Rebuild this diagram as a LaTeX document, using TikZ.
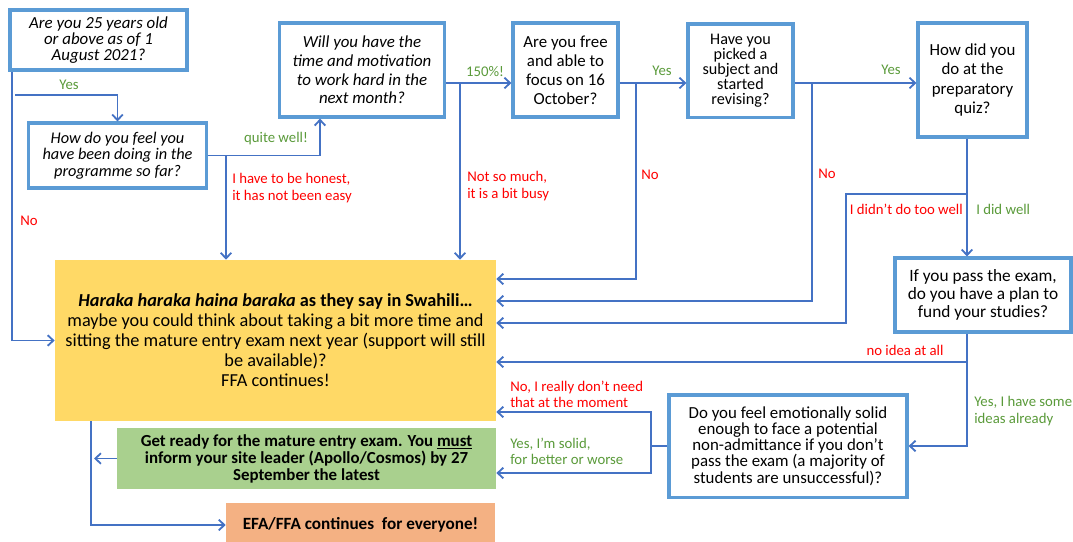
\documentclass[tikz,border=0pt]{standalone}
\usepackage{fontspec}
\setmainfont{Carlito}
\usepackage{xcolor}
\usetikzlibrary{arrows.meta}
\definecolor{boxblue}{HTML}{5B9BD5}
\definecolor{lineblue}{HTML}{4472C4}
\definecolor{yesgreen}{HTML}{5A9A3A}
\definecolor{nored}{HTML}{FF0000}
\definecolor{waitfill}{HTML}{FFD966}
\definecolor{readyfill}{HTML}{A9D08E}
\definecolor{allfill}{HTML}{F4B183}

\begin{document}
\begin{tikzpicture}[x=0.025cm, y=-0.025cm,
    qbox/.style={draw=boxblue, line width=2.2pt, fill=white, align=center, inner sep=2pt},
    endbox/.style={align=center, inner sep=2pt},
    conn/.style={draw=lineblue, line width=1.3pt, -{Straight Barb[length=4pt,width=7.5pt]}},
    wire/.style={draw=lineblue, line width=1.3pt},
    yes/.style={text=yesgreen, font=\fontsize{10.5}{11.5}\selectfont, align=left, inner sep=0pt},
    no/.style={text=nored, font=\fontsize{10.5}{11.5}\selectfont, align=left, inner sep=0pt}]
    \useasboundingbox (0,0) rectangle (1073,541);

    \node[qbox, minimum width=125.9pt, minimum height=42.7pt, font=\fontsize{12}{11.5}\selectfont\itshape] (age) at (98.5,40)
        {Are you 25 years old\\or above as of 1\\August 2021?};
    \node[qbox, minimum width=126pt, minimum height=46.2pt, font=\fontsize{11.6}{11.7}\selectfont\itshape] (feel) at (117.5,155.5)
        {How do you feel you\\have been doing in the\\programme so far?};
    \node[qbox, minimum width=116.7pt, minimum height=66.9pt, font=\fontsize{12}{13.2}\selectfont\itshape] (motiv) at (362,70)
        {Will you have the\\time and motivation\\to work hard in the\\next month?};
    \node[qbox, minimum width=74.7pt, minimum height=66.9pt, font=\fontsize{12}{13.5}\selectfont] (free) at (565.5,70)
        {Are you free\\and able to\\focus on 16\\October?};
    \node[qbox, minimum width=74.7pt, minimum height=66.2pt, font=\fontsize{11.5}{10.7}\selectfont] (subj) at (740.5,70.5)
        {Have you\\picked a\\subject and\\started\\revising?};
    \node[qbox, minimum width=77.5pt, minimum height=81.1pt, font=\fontsize{12}{13.9}\selectfont] (quiz) at (972.5,80)
        {How did you\\do at the\\preparatory\\quiz?};
    \node[qbox, minimum width=125.2pt, minimum height=52.6pt, font=\fontsize{12.3}{13}\selectfont] (fund) at (983,295)
        {If you pass the exam,\\do you have a plan to\\fund your studies?};
    \node[qbox, minimum width=169.3pt, minimum height=72.6pt, font=\fontsize{12}{11.5}\selectfont] (solid) at (788,446)
        {Do you feel emotionally solid\\enough to face a potential\\non-admittance if you don’t\\pass the exam (a majority of\\students are unsuccessful)?};

    \node[endbox, fill=waitfill, minimum width=313.7pt, minimum height=114.5pt, font=\fontsize{13}{14.2}\selectfont] (wait) at (275.5,340.5)
        {\textbf{\textit{Haraka haraka haina baraka} as they say in Swahili…}\\maybe you could think about taking a bit more time and\\sitting the mature entry exam next year (support will still\\be available)?\\FFA continues!};
    \node[endbox, fill=readyfill, minimum width=269.6pt, minimum height=43.4pt, font=\fontsize{12}{12.1}\selectfont\bfseries] (ready) at (306.5,458.5)
        {Get ready for the mature entry exam. You \underline{must}\\inform your site leader (Apollo/Cosmos) by 27\\September the latest};
    \node[endbox, fill=allfill, minimum width=191.3pt, minimum height=31.3pt, font=\fontsize{12.2}{12.1}\selectfont\bfseries] (all) at (360.5,525)
        {EFA/FFA continues\ \ for everyone!};

    \coordinate (agebr) at (15,95);
    \coordinate (feelbr) at (226,155.5);
    \coordinate (motivbr) at (460,83);
    \coordinate (freebr) at (636,83);
    \coordinate (subjbr) at (812,83);
    \coordinate (quizbr) at (967,194);
    \coordinate (fundbr) at (967,362);
    \coordinate (solidbr) at (651,446);

    \draw[conn] ([xshift=2.5pt]age.south west) |- (wait.west);
    \draw[conn] (agebr) -| (feel.north);
    \draw[conn] (feel.east) -| (motiv.south -| 320,0);
    \draw[conn] (feelbr) -- (feelbr |- wait.north);
    \draw[conn] (motiv.east |- motivbr) -- (free.west |- motivbr);
    \draw[conn] (motivbr) -- (motivbr |- wait.north);
    \draw[conn] (free.east |- freebr) -- (subj.west |- freebr);
    \draw[conn] (freebr) |- (wait.east |- 0,279);
    \draw[conn] (subj.east |- subjbr) -- (quiz.west |- subjbr);
    \draw[conn] (subjbr) |- (wait.east |- 0,301);
    \draw[conn] (quiz.south -| quizbr) -- (fund.north -| quizbr);
    \draw[conn] (quizbr) -- (quizbr -| 846,0) |- (wait.east |- 0,323);
    \draw[conn] (fund.south -| quizbr) |- (solid.east);
    \draw[conn] (fundbr) -- (wait.east |- fundbr);
    \draw[wire] (solid.west) -- (solidbr);
    \draw[conn] (solidbr) |- (wait.east |- 0,412);
    \draw[conn] (solidbr) |- (ready.east |- 0,473);
    \draw[conn] (wait.south -| 91,0) |- (all.west);
    \draw[conn] (ready.west) -- (ready.west -| 94,0);

    \node[yes] (lyes1) at (69,85) {Yes};
    \node[no] (lno1) at (29,221) {No};
    \node[yes] (lwell) at (276,139) {quite well!};
    \node[no, anchor=west] (lhonest) at (232,188) {I have to be honest,\\it has not been easy};
    \node[yes] (l150) at (485,72) {150\%!};
    \node[no, anchor=west] (lbusy) at (467,186) {Not so much,\\it is a bit busy};
    \node[yes] (lyes2) at (662,71) {Yes};
    \node[no] (lno2) at (650,175) {No};
    \node[yes] (lyes3) at (891,70) {Yes};
    \node[no] (lno3) at (827,174) {No};
    \node[no, anchor=east] (lnotwell) at (963,209) {I didn't do too well};
    \node[yes, anchor=west] (ldidwell) at (976,209) {I did well};
    \node[no] (lnoidea) at (905,350) {no idea at all};
    \node[yes, anchor=west] (lideas) at (974,411) {Yes, I have some\\ideas already};
    \node[no, anchor=west] (lnoneed) at (510,394) {No, I really don’t need\\that at the moment};
    \node[yes, anchor=west] (lsolid) at (510,451) {Yes, I’m solid,\\for better or worse};
\end{tikzpicture}
\end{document}
